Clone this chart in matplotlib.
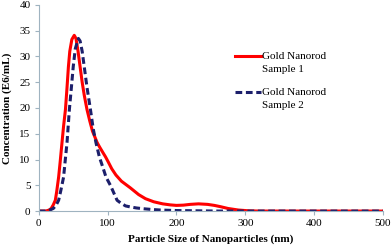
import numpy as np
import matplotlib.pyplot as plt

# particle size (nm) and concentration (E6/mL)
size_1 = [0, 10, 15, 18, 21, 24, 26, 28.8, 31, 33.7, 36, 38.7, 41, 43, 45, 48, 51.5,
          54, 57, 60, 63, 66, 70, 74, 78, 84.7, 88, 92, 97, 101, 106, 112, 120, 133,
          145, 155, 167, 180, 191, 200, 210, 220, 232, 245, 255, 264, 275, 290, 305,
          320, 400, 500]
conc_1 = [0, 0, 0.2, 0.5, 1.2, 2.1, 3.8, 6.6, 9.5, 13.3, 16.5, 19.7, 24, 28, 31, 33.3, 34.1,
          33.5, 31, 28, 25, 22.5, 19.7, 17.5, 15.5, 13.3, 12.5, 11.6, 10.5, 9.5, 8.2, 7, 5.8, 4.5,
          3.2, 2.4, 1.8, 1.4, 1.2, 1.1, 1.15, 1.3, 1.4, 1.3, 1.1, 0.85, 0.5, 0.2, 0.05,
          0, 0, 0]

size_2 = [0, 12, 16, 21, 25, 28.8, 32, 36, 38.5, 41, 44.4, 47, 50, 53, 57.5, 60, 63, 66,
          70, 75, 79, 83, 88, 93, 97.6, 104, 109, 113.7, 118.6, 126, 133, 142, 152, 165,
          177, 200, 230, 260, 400, 500]
conc_2 = [0, 0, 0.2, 0.5, 1.1, 2.1, 4, 6.6, 10, 13.3, 19.7, 23.5, 28, 31.5, 33.5, 33, 31, 28,
          24, 19.7, 16, 13.3, 10.5, 8.5, 6.6, 5, 3.5, 2.1, 1.6, 1, 0.8, 0.6, 0.45, 0.3,
          0.2, 0.1, 0.05, 0, 0, 0]

labels = ['Gold Nanorod\nSample 1', 'Gold Nanorod\nSample 2']

plt.rcParams['font.family'] = ['Liberation Serif', 'DejaVu Serif']

fig = plt.figure(figsize=(3.92, 2.46), dpi=100)
ax = fig.add_axes([0.099, 0.142, 0.878, 0.838])

ax.plot(size_1, conc_1, color='#ff0000', lw=2.2, label=labels[0])
ax.plot(size_2, conc_2, color='#1c1f6b', lw=2.2, ls=(0, (2.2, 1.2)), label=labels[1])

ax.set_xlim(0, 500)
ax.set_ylim(0, 40)
ax.set_xticks(np.arange(0, 501, 100))
ax.set_yticks(np.arange(0, 41, 5))
ax.tick_params(labelsize=8, length=3, width=0.8, color='#9fb3c0', pad=3)

for s in ['top', 'right']:
    ax.spines[s].set_visible(False)
for s in ['left', 'bottom']:
    ax.spines[s].set_color('#9fb3c0')
    ax.spines[s].set_linewidth(0.8)

ax.set_xlabel('Particle Size of Nanoparticles (nm)', fontsize=8, fontweight='bold', labelpad=4)
ax.set_ylabel('Concentration (E6/mL)', fontsize=8, fontweight='bold', labelpad=5)

leg = ax.legend(loc='upper left', bbox_to_anchor=(0.542, 0.82), frameon=False, fontsize=8,
                handlelength=2.3, handletextpad=0.1, labelspacing=1.3)
for t in leg.get_texts():
    t.set_linespacing(1.55)
# put the handle level with the first text line, like the original
for line in leg.get_lines():
    line.set_ydata(np.asarray(line.get_ydata()) + 4.7)

plt.savefig('out.png', dpi=100)
